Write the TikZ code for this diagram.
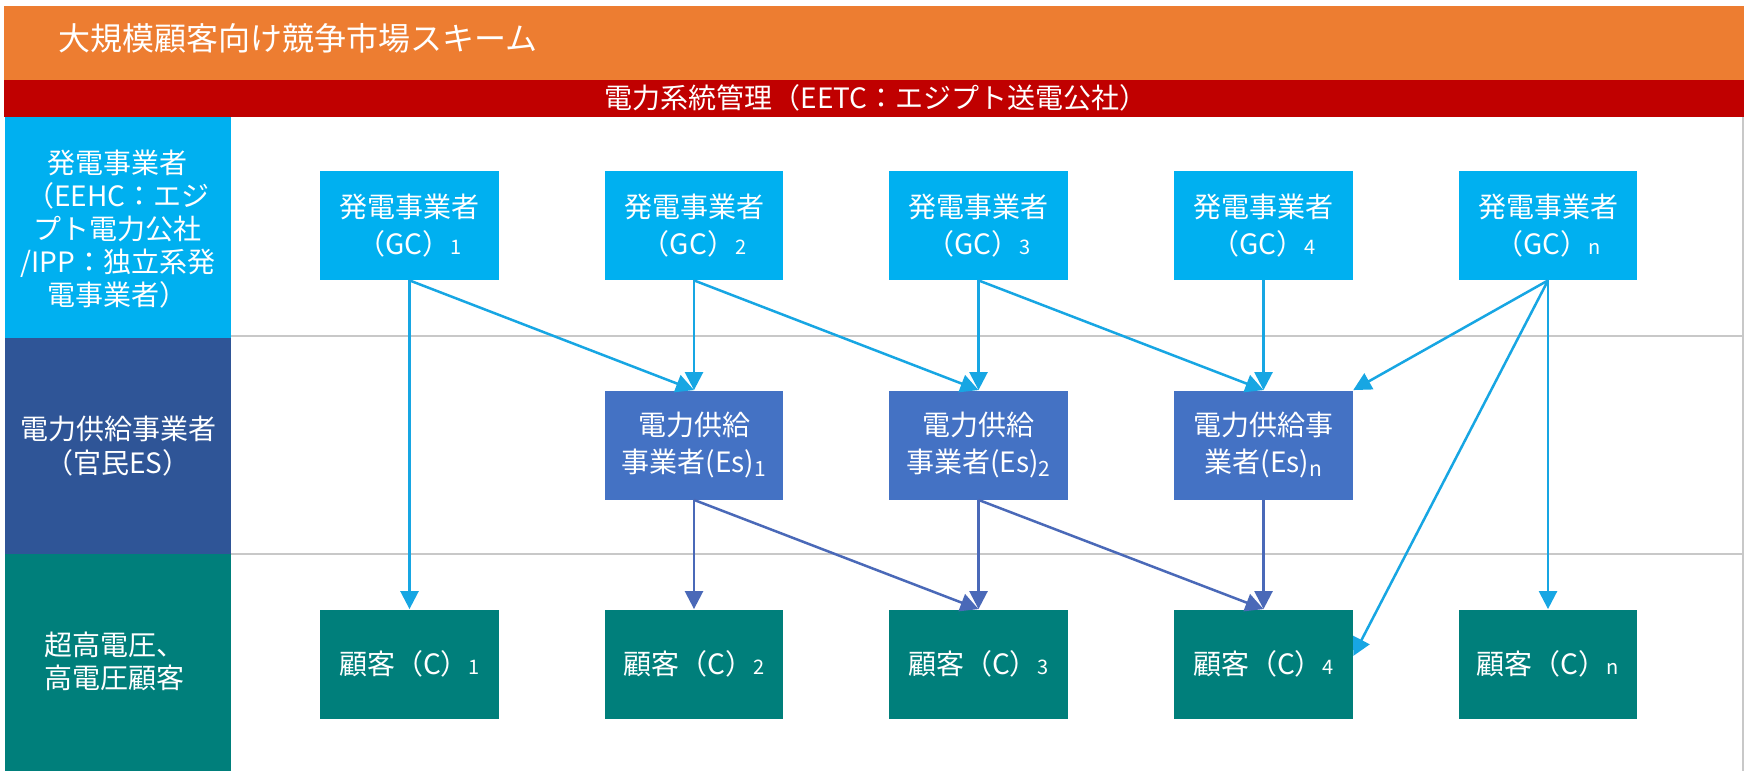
\documentclass[tikz,border=0pt]{standalone}
\usepackage{fontspec}
\setmainfont{Noto Sans CJK JP}
\usetikzlibrary{arrows.meta}
\definecolor{orng}{HTML}{ED7D31}
\definecolor{redbar}{HTML}{C00000}
\definecolor{cyanc}{HTML}{00B0F0}
\definecolor{navyc}{HTML}{2F5597}
\definecolor{tealc}{HTML}{007F7B}
\definecolor{esblue}{HTML}{4472C4}
\definecolor{gcline}{HTML}{17A6E3}
\definecolor{esline}{HTML}{4A69B8}
\definecolor{gridc}{HTML}{C8C8C8}
\newcommand{\gsub}[1]{{\fontsize{10pt}{10pt}\selectfont #1}}
\newcommand{\esub}[1]{\raisebox{-2pt}{\fontsize{10.5pt}{10pt}\selectfont #1}}
\begin{document}
\begin{tikzpicture}[x=0.5pt,y=-0.5pt,
  box/.style={inner sep=0pt, minimum width=89.3pt, minimum height=54.5pt, align=center,
    text=white, font=\fontsize{14pt}{18.5pt}\selectfont},
  gcbox/.style={box, fill=cyanc},
  esbox/.style={box, fill=esblue},
  cbox/.style={box, fill=tealc},
  lab/.style={text=white, align=center, inner sep=0pt, font=\fontsize{14pt}{16.6pt}\selectfont},
  gcarrow/.style={draw=gcline, line width=1.25pt, -{Triangle[length=9pt,width=9pt]}},
  esarrow/.style={draw=esline, line width=1.25pt, -{Triangle[length=9pt,width=9pt]}},
  gridline/.style={draw=gridc, line width=1pt}]
\useasboundingbox (0,0) rectangle (1749,771);
\fill[white] (0,0) rectangle (1749,771);
% banners
\fill[orng] (4,6) rectangle (1744,80);
\fill[redbar] (4,80) rectangle (1744,117);
\node[text=white, anchor=west, inner sep=0pt, font=\fontsize{16pt}{16pt}\selectfont] (title) at (58,38) {大規模顧客向け競争市場スキーム};
\node[text=white, inner sep=0pt, font=\fontsize{14pt}{14pt}\selectfont] (eetc) at (876,98) {電力系統管理（EETC：エジプト送電公社）};
% left column
\fill[cyanc] (5,117) rectangle (231,338);
\fill[navyc] (5,338) rectangle (231,554);
\fill[tealc] (5,554) rectangle (231,771);
\draw[gridline] (231,336) -- (1744,336);
\draw[gridline] (231,554) -- (1744,554);
\draw[gridline] (1743,117) -- (1743,771);
\node[lab] (lgc) at (118,229) {発電事業者\\（EEHC：エジ\\プト電力公社\\/IPP：独立系発\\電事業者）};
\node[lab] (les) at (118,446) {電力供給事業者\\（官民ES）};
\node[lab, align=left, anchor=west] (lc) at (44,661) {超高電圧、\\高電圧顧客};
% GC boxes
\node[gcbox] (gc1) at (409.5,225.5) {発電事業者\\（GC）\gsub{1}};
\node[gcbox] (gc2) at (694,225.5) {発電事業者\\（GC）\gsub{2}};
\node[gcbox] (gc3) at (978.5,225.5) {発電事業者\\（GC）\gsub{3}};
\node[gcbox] (gc4) at (1263.5,225.5) {発電事業者\\（GC）\gsub{4}};
\node[gcbox] (gcn) at (1548,225.5) {発電事業者\\（GC）\gsub{n}};
% ES boxes
\node[esbox] (es1) at (694,445) {電力供給\\事業者(Es)\esub{1}};
\node[esbox] (es2) at (978.5,445) {電力供給\\事業者(Es)\esub{2}};
\node[esbox] (esn) at (1263.5,445) {電力供給事\\業者(Es)\esub{n}};
% C boxes
\node[cbox] (c1) at (409.5,664) {顧客（C）\gsub{1}};
\node[cbox] (c2) at (694,664) {顧客（C）\gsub{2}};
\node[cbox] (c3) at (978.5,664) {顧客（C）\gsub{3}};
\node[cbox] (c4) at (1263.5,664) {顧客（C）\gsub{4}};
\node[cbox] (cn) at (1548,664) {顧客（C）\gsub{n}};
% GC arrows
\draw[gcarrow] (gc1.south) -- (c1.north);
\draw[gcarrow] (gc1.south) -- (es1.north);
\draw[gcarrow] (gc2.south) -- (es1.north);
\draw[gcarrow] (gc2.south) -- (es2.north);
\draw[gcarrow] (gc3.south) -- (es2.north);
\draw[gcarrow] (gc3.south) -- (esn.north);
\draw[gcarrow] (gc4.south) -- (esn.north);
\draw[gcarrow] (gcn.south) -- (esn.north east);
\draw[gcarrow] (gcn.south) -- ([yshift=4pt]c4.east);
\draw[gcarrow] (gcn.south) -- (cn.north);
% ES arrows
\draw[esarrow] (es1.south) -- (c2.north);
\draw[esarrow] (es1.south) -- (c3.north);
\draw[esarrow] (es2.south) -- (c3.north);
\draw[esarrow] (es2.south) -- (c4.north);
\draw[esarrow] (esn.south) -- (c4.north);
\end{tikzpicture}
\end{document}
